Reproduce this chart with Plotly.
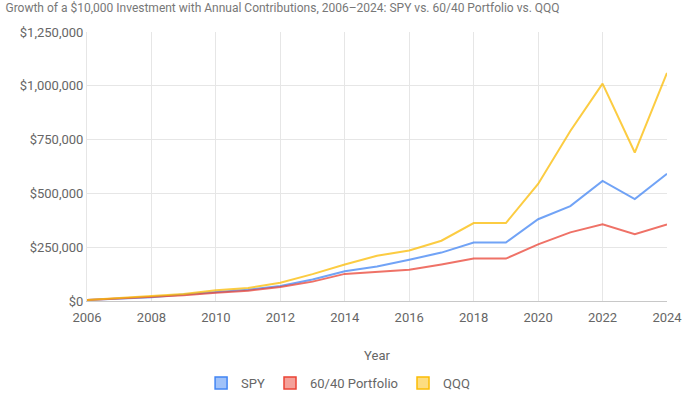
import plotly.graph_objects as go

years = list(range(2006, 2025))
spy = [5000, 13000, 18000, 30000, 42000, 52000, 70000, 100000, 138000, 160000, 192000, 225000,
       272000, 272000, 380000, 441000, 558000, 474000, 591000]
sixty_forty = [5000, 12000, 17000, 27000, 38000, 48000, 65000, 90000, 126000, 135000, 145000, 170000,
               197000, 197000, 263000, 319000, 356000, 310000, 356000]
qqq = [5000, 14000, 22000, 32000, 50000, 60000, 85000, 125000, 170000, 210000, 235000, 280000,
       362000, 362000, 544000, 790000, 1010000, 690000, 1060000]

series_names = ["SPY", "60/40 Portfolio", "QQQ"]
series_values = [spy, sixty_forty, qqq]
colors = ["#4285F4", "#EA4335", "#FBBC04"]
fills = ["rgba(66,133,244,0.5)", "rgba(234,67,53,0.5)", "rgba(251,188,4,0.5)"]

y_ticks = [0, 250000, 500000, 750000, 1000000, 1250000]
y_labels = ["$0", "$250,000", "$500,000", "$750,000", "$1,000,000", "$1,250,000"]

title_text = ("Growth of a $10,000 Investment with Annual Contributions, 2006–2024: "
              "SPY vs. 60/40 Portfolio vs. QQQ")

fig = go.Figure()
for name, vals, c in zip(series_names, series_values, colors):
    fig.add_trace(go.Scatter(x=years, y=vals, mode="lines", name=name,
                             line=dict(color=c, width=2), opacity=0.75, showlegend=False))
for name, c, f in zip(series_names, colors, fills):
    fig.add_trace(go.Scatter(x=[None], y=[None], mode="markers", name=name,
                             marker=dict(symbol="square", size=12, color=f,
                                         line=dict(color=c, width=1.5))))

fig.update_layout(
    width=683, height=394,
    margin=dict(l=87, r=16, t=32, b=93, autoexpand=False),
    paper_bgcolor="white", plot_bgcolor="white",
    font=dict(family="Roboto, Arial, sans-serif", size=13, color="#666666"),
    title=dict(text=title_text, x=0.008, xanchor="left", yref="container", y=0.98,
               yanchor="middle", font=dict(size=12, color="#777777")),
    legend=dict(orientation="h", xref="container", x=0.495, xanchor="center",
                yref="container", y=0.028, yanchor="middle",
                font=dict(size=13, color="#666666"), itemwidth=30),
    xaxis=dict(range=[2006, 2024], tickvals=list(range(2006, 2025, 2)),
               ticktext=[str(v) for v in range(2006, 2025, 2)],
               showgrid=True, gridcolor="#e6e6e6",
               gridwidth=1, zeroline=False, showline=True, linecolor="#c8c8c8", linewidth=1,
               ticks="outside", ticklen=4, tickcolor="rgba(0,0,0,0)",
               title=dict(text="Year", standoff=27, font=dict(size=13, color="#666666")),
               tickfont=dict(size=13)),
    yaxis=dict(range=[0, 1250000], tickvals=y_ticks, ticktext=y_labels, showgrid=True,
               gridcolor="#e6e6e6", gridwidth=1, zeroline=False, showline=True,
               linecolor="#e6e6e6", ticks="", tickfont=dict(size=13)),
)

fig.write_html("out.html")
